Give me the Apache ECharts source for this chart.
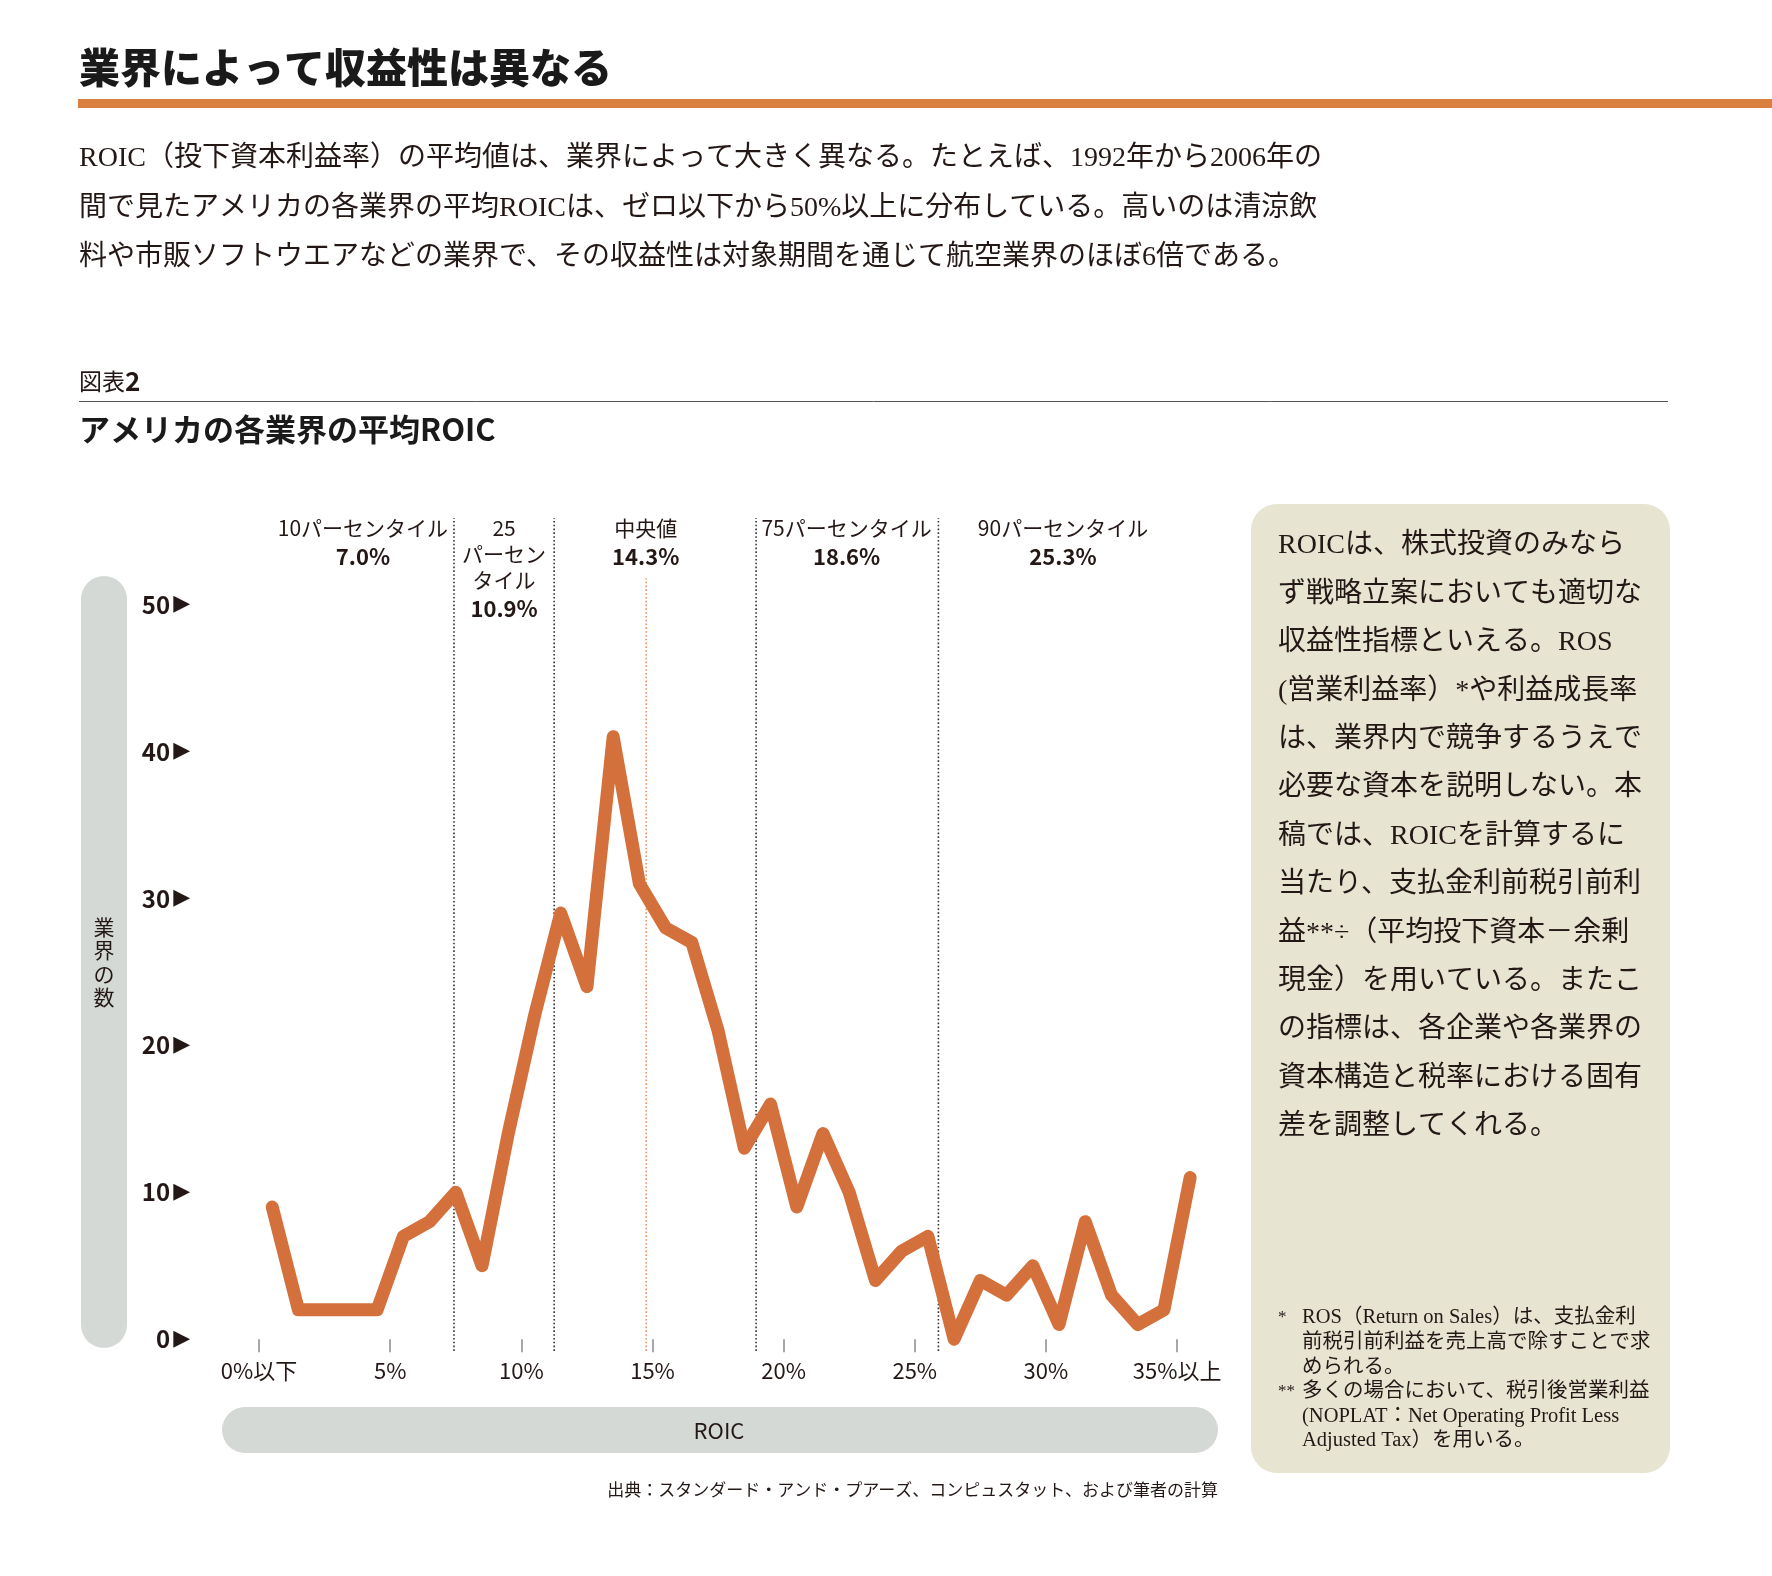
<!DOCTYPE html>
<html>
<head>
<meta charset="utf-8">
<script src="https://cdn.jsdelivr.net/npm/echarts@6.0.0/dist/echarts.min.js"></script>
<style>
  html, body { margin: 0; padding: 0; background: #fff; }
  #chart { width: 1772px; height: 1576px; }
</style>
</head>
<body>
<div id="chart"></div>
<script>
// ROIC bin centres (%) and number of industries in each bin
var roicBins = [0.5, 1.5, 2.5, 3.5, 4.5, 5.5, 6.5, 7.5, 8.5, 9.5, 10.5, 11.5,
  12.5, 13.5, 14.5, 15.5, 16.5, 17.5, 18.5, 19.5, 20.5, 21.5, 22.5, 23.5,
  24.5, 25.5, 26.5, 27.5, 28.5, 29.5, 30.5, 31.5, 32.5, 33.5, 34.5, 35.5];
var industryCounts = [9, 2, 2, 2, 2, 7, 8, 10, 5, 14, 22, 29,
  24, 41, 31, 28, 27, 21, 13, 16, 9, 14, 10, 4,
  6, 7, 0, 4, 3, 5, 1, 8, 3, 1, 2, 11];

var xTickValues = [0, 5, 10, 15, 20, 25, 30, 35];
var xTickLabels = { 0: '0%以下', 5: '5%', 10: '10%', 15: '15%', 20: '20%', 25: '25%', 30: '30%', 35: '35%以上' };

// percentile markers
var pctNames = [['10パーセンタイル'], ['25', 'パーセン', 'タイル'], ['中央値'], ['75パーセンタイル'], ['90パーセンタイル']];
var pctValues = ['7.0%', '10.9%', '14.3%', '18.6%', '25.3%'];
var pctLinePos = [7.43, 11.25, 14.76, 18.95, 25.9];
var pctLineTop = [55.9, 55.9, 51.8, 55.9, 55.9];
var pctLabelPos = [3.96, 9.34, 14.74, 22.4, 30.65];

var titleText = '業界によって収益性は異なる';
var leadLines = [
  'ROIC（投下資本利益率）の平均値は、業界によって大きく異なる。たとえば、1992年から2006年の',
  '間で見たアメリカの各業界の平均ROICは、ゼロ以下から50%以上に分布している。高いのは清涼飲',
  '料や市販ソフトウエアなどの業界で、その収益性は対象期間を通じて航空業界のほぼ6倍である。'
];
var boxLines = [
  'ROICは、株式投資のみなら',
  'ず戦略立案においても適切な',
  '収益性指標といえる。ROS',
  '(営業利益率）*や利益成長率',
  'は、業界内で競争するうえで',
  '必要な資本を説明しない。本',
  '稿では、ROICを計算するに',
  '当たり、支払金利前税引前利',
  '益**÷（平均投下資本－余剰',
  '現金）を用いている。またこ',
  'の指標は、各企業や各業界の',
  '資本構造と税率における固有',
  '差を調整してくれる。'
];
var noteLines = [
  ['*', 'ROS（Return on Sales）は、支払金利'],
  ['', '前税引前利益を売上高で除すことで求'],
  ['', 'められる。'],
  ['**', '多くの場合において、税引後営業利益'],
  ['', '(NOPLAT：Net Operating Profit Less'],
  ['', 'Adjusted Tax）を用いる。']
];
var sourceText = '出典：スタンダード・アンド・プアーズ、コンピュスタット、および筆者の計算';

var SANS = '"Noto Sans CJK JP", "Noto Sans", sans-serif';
var SERIF = '"Liberation Serif", "Noto Sans CJK JP", serif';
var INK = '#231815';
var ORANGE = '#D4703B';

var chart = echarts.init(document.getElementById('chart'));

var series = [{
  type: 'line',
  data: roicBins.map(function (x, i) { return [x, industryCounts[i]]; }),
  symbol: 'none',
  clip: false,
  silent: true,
  z: 5,
  lineStyle: { color: ORANGE, width: 13, cap: 'round', join: 'round' }
}];

pctLinePos.forEach(function (x, i) {
  series.push({
    type: 'line',
    data: [[x, -0.8], [x, pctLineTop[i]]],
    symbol: 'none',
    clip: false,
    silent: true,
    z: 2,
    lineStyle: { color: i === 2 ? '#E59563' : '#333', width: 1.6, type: [1.6, 2.2] }
  });
});

chart.setOption({
  animation: false,
  grid: { left: 259.1, right: 568.7, top: 604.6, bottom: 236.8 },
  xAxis: {
    type: 'value', min: 0, max: 36,
    axisLine: { show: false },
    axisTick: { show: true, length: 13, customValues: xTickValues, lineStyle: { color: '#8a8a8a', width: 1.5 } },
    splitLine: { show: false },
    axisLabel: {
      margin: 20, fontSize: 22, color: INK, fontFamily: SANS,
      customValues: xTickValues,
      formatter: function (v) { return xTickLabels[v] || ''; }
    }
  },
  yAxis: {
    type: 'value', min: 0, max: 50, interval: 10,
    axisLine: { show: false }, axisTick: { show: false }, splitLine: { show: false },
    axisLabel: {
      margin: 69,
      formatter: function (v) { return '{n|' + v + '}{t|▶}'; },
      rich: {
        n: { fontSize: 24, fontWeight: 'bold', color: INK, fontFamily: SANS },
        t: { fontSize: 22, color: INK, fontFamily: '"DejaVu Sans", sans-serif', padding: [0, 0, 0, 3] }
      }
    }
  },
  series: series
});

function txt(x, y, text, size, o) {
  o = o || {};
  var al = o.align || 'left', va = o.va || 'middle';
  return {
    type: 'text', x: x, y: y, silent: true, z: 10,
    style: {
      text: text, fill: o.color || INK,
      fontSize: size, fontWeight: o.weight || 'normal', fontFamily: o.family || SANS,
      align: al, verticalAlign: va, textAlign: al, textVerticalAlign: va,
      lineHeight: o.lh, rich: o.rich
    }
  };
}
function rect(x, y, w, h, r, fill) {
  return { type: 'rect', silent: true, z: 0, shape: { x: x, y: y, width: w, height: h, r: r }, style: { fill: fill } };
}
function hline(x1, x2, y, w, color) {
  return { type: 'line', silent: true, z: 1, shape: { x1: x1, y1: y, x2: x2, y2: y }, style: { stroke: color, lineWidth: w } };
}

var g = [];
// header
g.push(txt(79, 67, titleText, 41, { weight: 900, color: '#1a1a1a' }));
g.push(rect(78, 99, 1694, 9, 0, '#D9803F'));
leadLines.forEach(function (s, i) {
  g.push(txt(79, 159 + i * 49.5, s, 28, { family: SERIF }));
});
g.push(txt(79, 381, '{a|図表}{b|2}', 24, {
  rich: { a: { fontSize: 23, fontFamily: SANS, fill: INK }, b: { fontSize: 26, fontWeight: 'bold', fontFamily: SANS, fill: INK } }
}));
g.push(hline(79, 1668, 401.5, 1, '#555'));
g.push(txt(79, 429, 'アメリカの各業界の平均ROIC', 31, { weight: 'bold', color: '#1a1a1a' }));

// axis title pills
g.push(rect(81, 576, 46, 772, 23, '#D5D9D6'));
g.push(txt(104, 962, '業\n界\nの\n数', 21, { align: 'center', lh: 23.5 }));
g.push(rect(222, 1407, 996, 46, 23, '#D5D9D6'));
g.push(txt(719, 1431, 'ROIC', 22, { align: 'center' }));
g.push(txt(1218, 1490, sourceText, 17, { align: 'right' }));

// percentile labels, anchored to the x axis scale
pctLabelPos.forEach(function (xv, i) {
  var px = chart.convertToPixel({ gridIndex: 0 }, [xv, 0])[0];
  var parts = pctNames[i].map(function (s) { return '{a|' + s + '}'; });
  parts.push('{b|' + pctValues[i] + '}');
  g.push(txt(px, 515, parts.join('\n'), 21, {
    align: 'center', va: 'top',
    rich: {
      a: { fontSize: 21, lineHeight: 26, fontFamily: SANS, fill: INK, align: 'center' },
      b: { fontSize: 22, lineHeight: 32, fontWeight: 'bold', fontFamily: SANS, fill: INK, align: 'center' }
    }
  }));
});

// side note box
g.push(rect(1251, 504, 419, 969, 26, '#E7E4D2'));
boxLines.forEach(function (s, i) {
  g.push(txt(1278, 546 + i * 48.4, s, 28, { family: SERIF }));
});
noteLines.forEach(function (p, i) {
  var y = 1318 + i * 24.6;
  if (p[0]) g.push(txt(1278, y, p[0], 17, { family: SERIF }));
  g.push(txt(1302, y, p[1], 20.5, { family: SERIF }));
});

chart.setOption({ graphic: g });
</script>
</body>
</html>
